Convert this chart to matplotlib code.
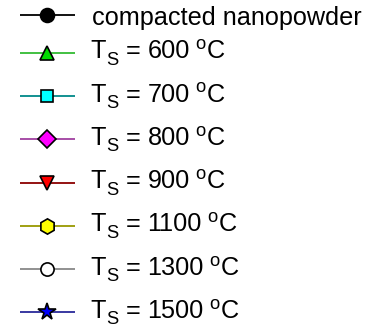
import matplotlib
matplotlib.use("Agg")
import matplotlib.pyplot as plt

plt.rcParams['font.family'] = ['Liberation Sans', 'DejaVu Sans']

# Series shown in the key: sintering temperatures (None = compacted nanopowder)
temperatures = [None, 600, 700, 800, 900, 1100, 1300, 1500]
line_colors = ["#000000", "#33bb33", "#008888", "#a040a0", "#8b0000", "#999900", "#888888", "#2a2a9a"]
face_colors = ["#000000", "#00dd00", "#00ffff", "#ff00ff", "#ff0000", "#ffff00", "#ffffff", "#0000ff"]
markers = ["o", "^", "s", "D", "v", "h", "o", "*"]
marker_sizes = [10, 10, 8.5, 9, 10, 11, 9.5, 13]

W, H = 367, 328
FS = 18.2          # main label size (pt)
FS_SMALL = 13.2    # sub/superscript size (pt)

fig = plt.figure(figsize=(W / 100, H / 100), dpi=100)
ax = fig.add_axes([0, 0, 1, 1])
ax.set_xlim(0, W)
ax.set_ylim(H, 0)
ax.set_axis_off()
renderer = fig.canvas.get_renderer()

# key layout (pixel units of the canvas)
row_y = [15.0] + [52.7 + 43.3 * k for k in range(7)]
handle_x = (20, 75)
marker_x = 47
text_x = 90


def put(x, y, s, size):
    t = ax.text(x, y, s, fontsize=size, ha="left", va="baseline")
    bb = t.get_window_extent(renderer)
    return ax.transData.inverted().transform((bb.x1, bb.y1))[0]


for temp, lc, fc, m, ms, y in zip(temperatures, line_colors, face_colors,
                                  markers, marker_sizes, row_y):
    ax.plot(handle_x, (y, y), color=lc, lw=1.3, solid_capstyle="butt")
    ax.plot(marker_x, y, marker=m, markersize=ms, markerfacecolor=fc,
            markeredgecolor="black", markeredgewidth=1.2, linestyle="none")
    if temp is None:
        put(text_x + 1.5, y + 9.5, "compacted nanopowder", FS)
    else:
        base = y + 5.5
        x = put(text_x, base, "T", FS)
        x = put(x + 1, base + 6.5, "S", FS_SMALL)
        x = put(x + 7, base, "=", FS)
        x = put(x + 7, base, str(temp), FS)
        x = put(x + 5, base - 9, "o", FS_SMALL)
        put(x + 1.5, base, "C", FS)

fig.savefig("out.png", dpi=100)
